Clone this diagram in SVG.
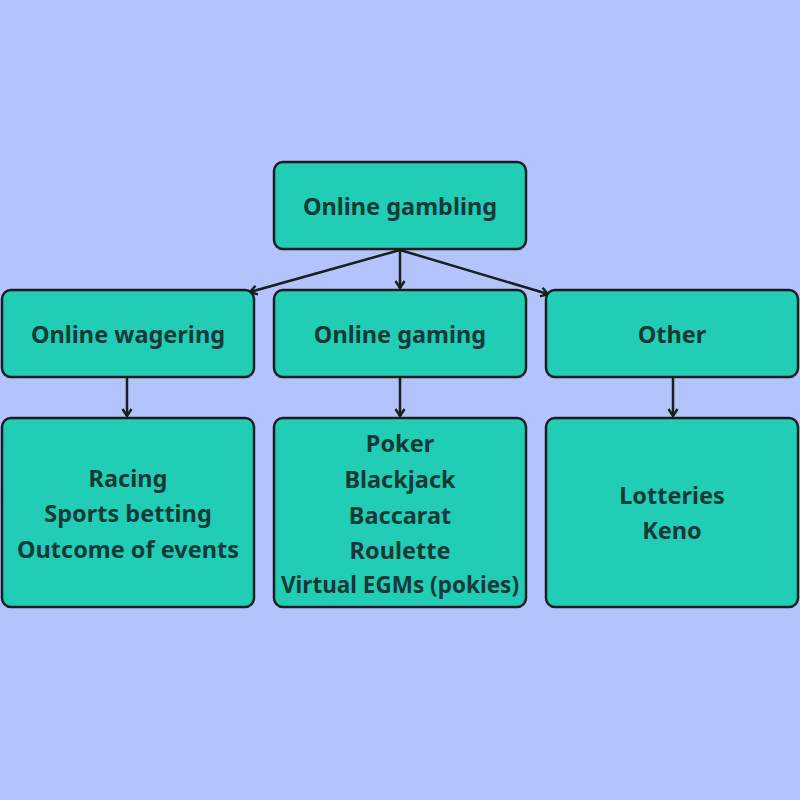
<svg xmlns="http://www.w3.org/2000/svg" width="800" height="800" viewBox="0 0 800 800">
<defs>
<style>
.box{fill:#22cdb6;stroke:#16201f;stroke-width:2.5}
.t{font-family:"Noto Sans","Open Sans",sans-serif;font-weight:bold;font-size:23.5px;fill:#143a38;text-anchor:middle}
.c{fill:none;stroke:#16201f;stroke-width:2.5}
</style>
<marker id="ah" viewBox="0 0 12 12" refX="11" refY="6" markerWidth="12" markerHeight="12" orient="auto" markerUnits="userSpaceOnUse" overflow="visible">
<path d="M4,1.5 L11,6 L4,10.5" fill="none" stroke="#16201f" stroke-width="2.4" stroke-linejoin="miter"/>
</marker>
</defs>
<rect width="800" height="800" fill="#b5c3fc"/>
<g id="connectors">
<path class="c" d="M400,250 L250,292" marker-end="url(#ah)"/>
<path class="c" d="M400,250 L400,288" marker-end="url(#ah)"/>
<path class="c" d="M400,250 L548,294" marker-end="url(#ah)"/>
<path class="c" d="M127,378 L127,416" marker-end="url(#ah)"/>
<path class="c" d="M400,378 L400,416" marker-end="url(#ah)"/>
<path class="c" d="M673,378 L673,416" marker-end="url(#ah)"/>
</g>
<g id="n-online-gambling">
<rect class="box" x="274" y="162" width="252" height="87" rx="9"/>
<text class="t" x="400" y="215">Online gambling</text>
</g>
<g id="n-online-wagering">
<rect class="box" x="2" y="290" width="252" height="87" rx="9"/>
<text class="t" x="128" y="343">Online wagering</text>
</g>
<g id="n-online-gaming">
<rect class="box" x="274" y="290" width="252" height="87" rx="9"/>
<text class="t" x="400" y="343">Online gaming</text>
</g>
<g id="n-other">
<rect class="box" x="546" y="290" width="252" height="87" rx="9"/>
<text class="t" x="672" y="343">Other</text>
</g>
<g id="n-wagering-list">
<rect class="box" x="2" y="418" width="252" height="189" rx="9"/>
<text class="t" x="128" y="487">Racing</text>
<text class="t" x="128" y="522">Sports betting</text>
<text class="t" x="128" y="558">Outcome of events</text>
</g>
<g id="n-gaming-list">
<rect class="box" x="274" y="418" width="252" height="189" rx="9"/>
<text class="t" x="400" y="452">Poker</text>
<text class="t" x="400" y="488">Blackjack</text>
<text class="t" x="400" y="524">Baccarat</text>
<text class="t" x="400" y="559">Roulette</text>
<text class="t" x="400" y="593" style="font-size:22.5px">Virtual EGMs (pokies)</text>
</g>
<g id="n-other-list">
<rect class="box" x="546" y="418" width="252" height="189" rx="9"/>
<text class="t" x="672" y="504">Lotteries</text>
<text class="t" x="672" y="539">Keno</text>
</g>
</svg>
